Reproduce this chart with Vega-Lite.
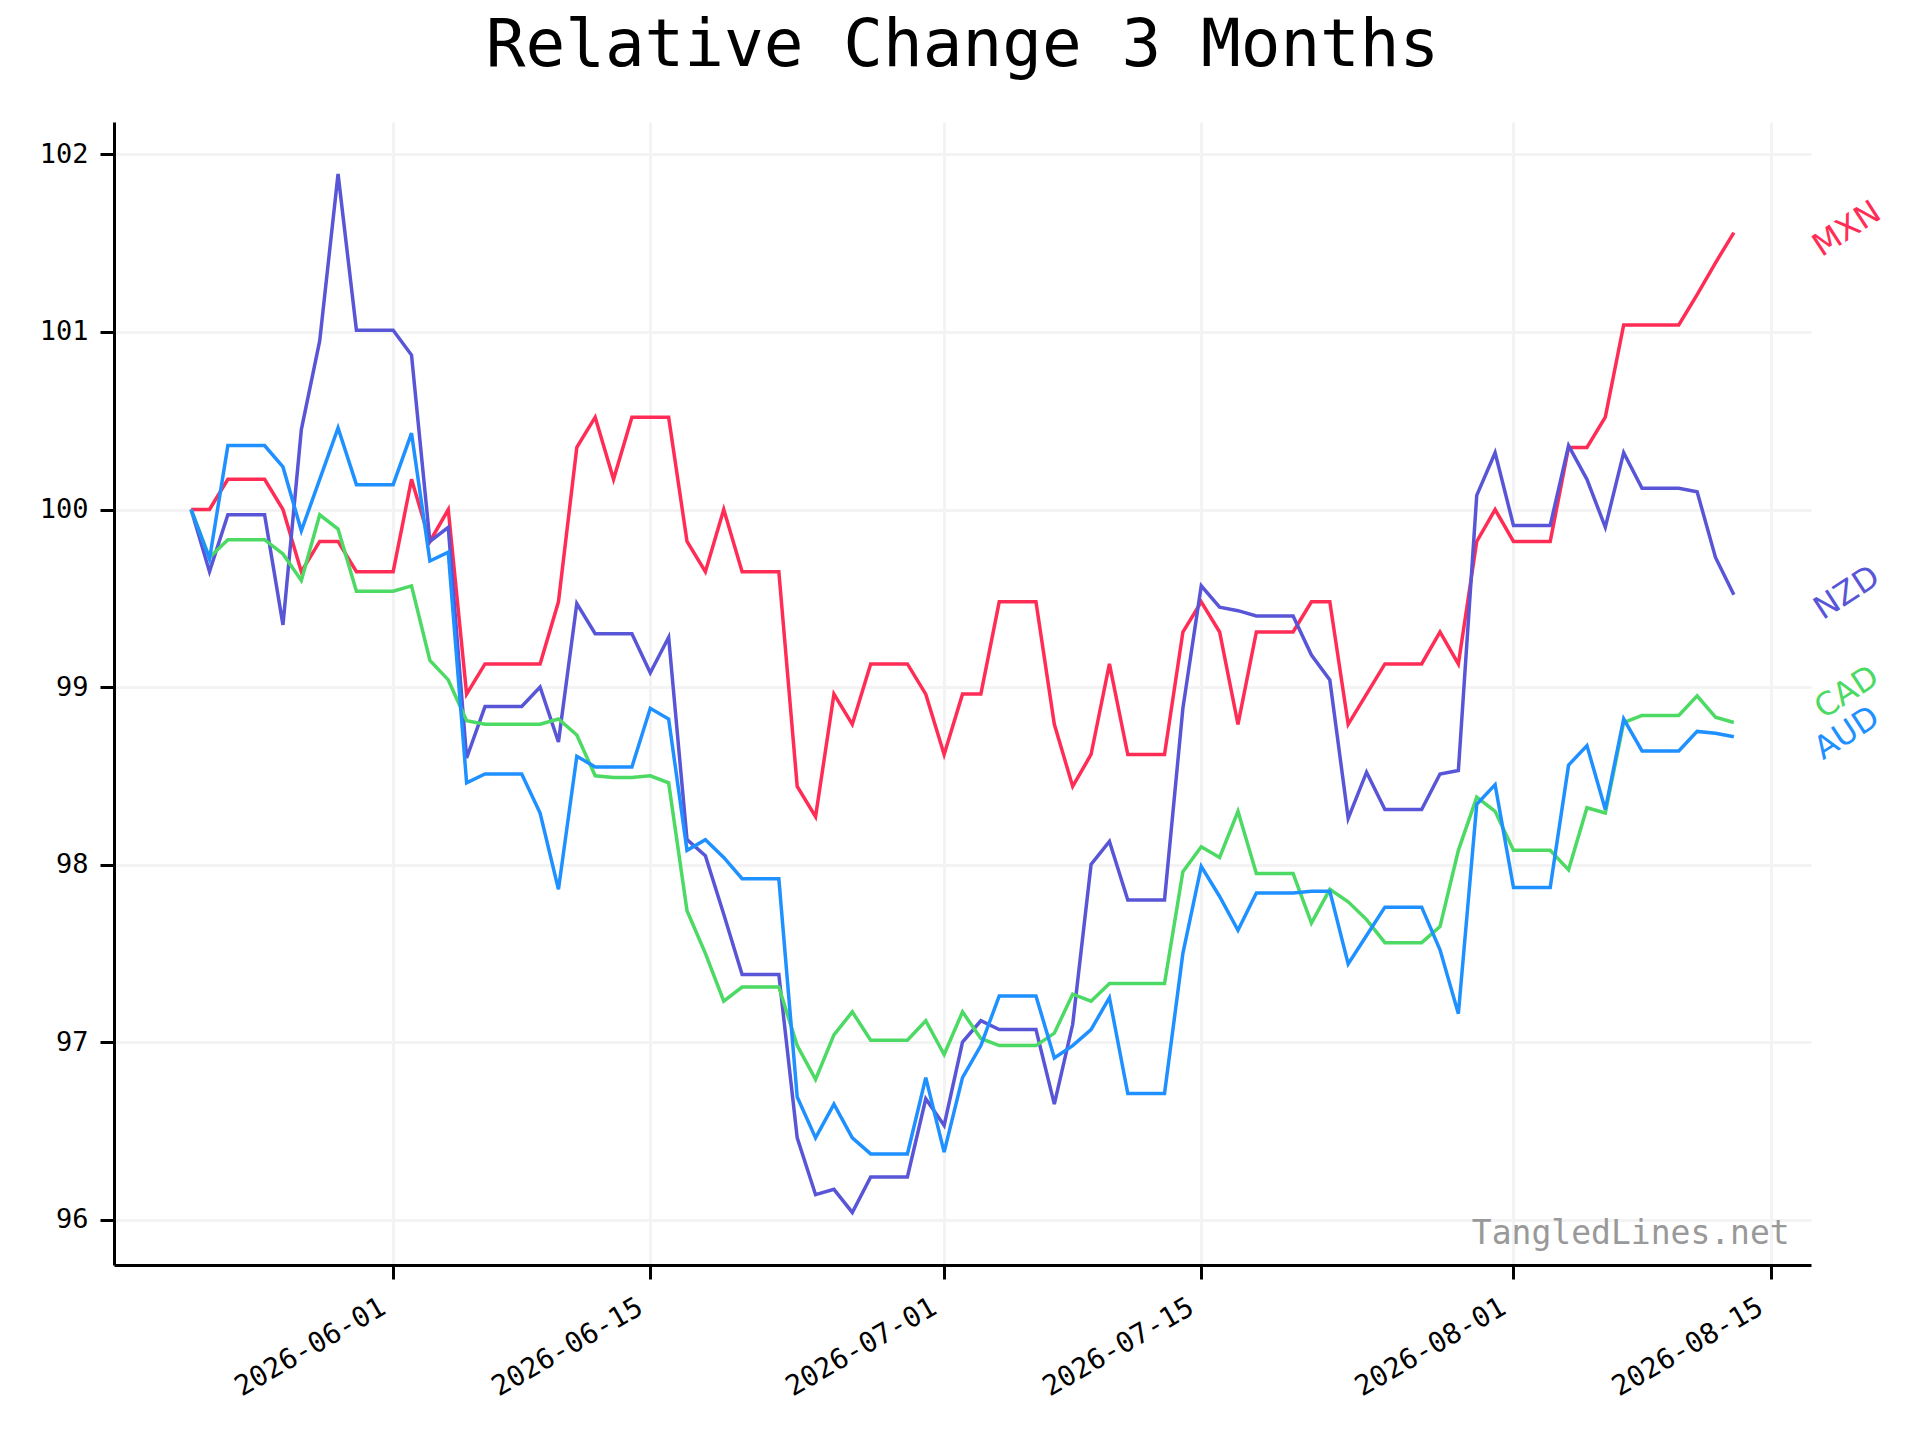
{
  "$schema": "https://vega.github.io/schema/vega-lite/v6.json",
  "width": 1697,
  "height": 1143,
  "autosize": {"type": "none"},
  "padding": {"left": 114, "top": 122, "right": 109, "bottom": 175},
  "background": "white",
  "title": {
    "text": "Relative Change 3 Months",
    "font": "DejaVu Sans Mono",
    "fontSize": 66,
    "fontWeight": "normal",
    "color": "black",
    "anchor": "middle",
    "offset": 42
  },
  "config": {
    "view": {"stroke": null},
    "axis": {
      "labelFont": "DejaVu Sans Mono",
      "labelFontSize": 27,
      "labelColor": "black",
      "domainColor": "black",
      "domainWidth": 3,
      "tickColor": "black",
      "tickWidth": 3,
      "tickSize": 14,
      "gridColor": "#f3f3f3",
      "gridWidth": 3,
      "title": null
    }
  },
  "datasets": {
    "rates": [
      {"date": "2026-05-21", "MXN": 100.0, "NZD": 100.0, "CAD": 100.0, "AUD": 100.0},
      {"date": "2026-05-22", "MXN": 100.0, "NZD": 99.65, "CAD": 99.73, "AUD": 99.72},
      {"date": "2026-05-23", "MXN": 100.17, "NZD": 99.97, "CAD": 99.83, "AUD": 100.36},
      {"date": "2026-05-24", "MXN": 100.17, "NZD": 99.97, "CAD": 99.83, "AUD": 100.36},
      {"date": "2026-05-25", "MXN": 100.17, "NZD": 99.97, "CAD": 99.83, "AUD": 100.36},
      {"date": "2026-05-26", "MXN": 100.0, "NZD": 99.35, "CAD": 99.75, "AUD": 100.24},
      {"date": "2026-05-27", "MXN": 99.65, "NZD": 100.45, "CAD": 99.6, "AUD": 99.88},
      {"date": "2026-05-28", "MXN": 99.82, "NZD": 100.95, "CAD": 99.97, "AUD": 100.17},
      {"date": "2026-05-29", "MXN": 99.82, "NZD": 101.89, "CAD": 99.89, "AUD": 100.46},
      {"date": "2026-05-30", "MXN": 99.65, "NZD": 101.01, "CAD": 99.54, "AUD": 100.14},
      {"date": "2026-05-31", "MXN": 99.65, "NZD": 101.01, "CAD": 99.54, "AUD": 100.14},
      {"date": "2026-06-01", "MXN": 99.65, "NZD": 101.01, "CAD": 99.54, "AUD": 100.14},
      {"date": "2026-06-02", "MXN": 100.17, "NZD": 100.87, "CAD": 99.57, "AUD": 100.43},
      {"date": "2026-06-03", "MXN": 99.82, "NZD": 99.82, "CAD": 99.15, "AUD": 99.71},
      {"date": "2026-06-04", "MXN": 100.0, "NZD": 99.9, "CAD": 99.04, "AUD": 99.76},
      {"date": "2026-06-05", "MXN": 98.96, "NZD": 98.6, "CAD": 98.81, "AUD": 98.46},
      {"date": "2026-06-06", "MXN": 99.13, "NZD": 98.89, "CAD": 98.79, "AUD": 98.51},
      {"date": "2026-06-07", "MXN": 99.13, "NZD": 98.89, "CAD": 98.79, "AUD": 98.51},
      {"date": "2026-06-08", "MXN": 99.13, "NZD": 98.89, "CAD": 98.79, "AUD": 98.51},
      {"date": "2026-06-09", "MXN": 99.13, "NZD": 99.0, "CAD": 98.79, "AUD": 98.29},
      {"date": "2026-06-10", "MXN": 99.48, "NZD": 98.69, "CAD": 98.82, "AUD": 97.86},
      {"date": "2026-06-11", "MXN": 100.35, "NZD": 99.47, "CAD": 98.73, "AUD": 98.61},
      {"date": "2026-06-12", "MXN": 100.52, "NZD": 99.3, "CAD": 98.5, "AUD": 98.55},
      {"date": "2026-06-13", "MXN": 100.17, "NZD": 99.3, "CAD": 98.49, "AUD": 98.55},
      {"date": "2026-06-14", "MXN": 100.52, "NZD": 99.3, "CAD": 98.49, "AUD": 98.55},
      {"date": "2026-06-15", "MXN": 100.52, "NZD": 99.08, "CAD": 98.5, "AUD": 98.88},
      {"date": "2026-06-16", "MXN": 100.52, "NZD": 99.28, "CAD": 98.46, "AUD": 98.82},
      {"date": "2026-06-17", "MXN": 99.82, "NZD": 98.14, "CAD": 97.74, "AUD": 98.08},
      {"date": "2026-06-18", "MXN": 99.65, "NZD": 98.05, "CAD": 97.5, "AUD": 98.14},
      {"date": "2026-06-19", "MXN": 100.0, "NZD": 97.72, "CAD": 97.23, "AUD": 98.04},
      {"date": "2026-06-20", "MXN": 99.65, "NZD": 97.38, "CAD": 97.31, "AUD": 97.92},
      {"date": "2026-06-21", "MXN": 99.65, "NZD": 97.38, "CAD": 97.31, "AUD": 97.92},
      {"date": "2026-06-22", "MXN": 99.65, "NZD": 97.38, "CAD": 97.31, "AUD": 97.92},
      {"date": "2026-06-23", "MXN": 98.44, "NZD": 96.46, "CAD": 96.98, "AUD": 96.69},
      {"date": "2026-06-24", "MXN": 98.27, "NZD": 96.14, "CAD": 96.79, "AUD": 96.46},
      {"date": "2026-06-25", "MXN": 98.96, "NZD": 96.17, "CAD": 97.04, "AUD": 96.65},
      {"date": "2026-06-26", "MXN": 98.79, "NZD": 96.04, "CAD": 97.17, "AUD": 96.46},
      {"date": "2026-06-27", "MXN": 99.13, "NZD": 96.24, "CAD": 97.01, "AUD": 96.37},
      {"date": "2026-06-28", "MXN": 99.13, "NZD": 96.24, "CAD": 97.01, "AUD": 96.37},
      {"date": "2026-06-29", "MXN": 99.13, "NZD": 96.24, "CAD": 97.01, "AUD": 96.37},
      {"date": "2026-06-30", "MXN": 98.96, "NZD": 96.68, "CAD": 97.12, "AUD": 96.8},
      {"date": "2026-07-01", "MXN": 98.62, "NZD": 96.53, "CAD": 96.93, "AUD": 96.38},
      {"date": "2026-07-02", "MXN": 98.96, "NZD": 97.0, "CAD": 97.17, "AUD": 96.8},
      {"date": "2026-07-03", "MXN": 98.96, "NZD": 97.12, "CAD": 97.02, "AUD": 96.98},
      {"date": "2026-07-04", "MXN": 99.48, "NZD": 97.07, "CAD": 96.98, "AUD": 97.26},
      {"date": "2026-07-05", "MXN": 99.48, "NZD": 97.07, "CAD": 96.98, "AUD": 97.26},
      {"date": "2026-07-06", "MXN": 99.48, "NZD": 97.07, "CAD": 96.98, "AUD": 97.26},
      {"date": "2026-07-07", "MXN": 98.79, "NZD": 96.65, "CAD": 97.05, "AUD": 96.91},
      {"date": "2026-07-08", "MXN": 98.44, "NZD": 97.1, "CAD": 97.27, "AUD": 96.98},
      {"date": "2026-07-09", "MXN": 98.62, "NZD": 98.0, "CAD": 97.23, "AUD": 97.07},
      {"date": "2026-07-10", "MXN": 99.13, "NZD": 98.13, "CAD": 97.33, "AUD": 97.25},
      {"date": "2026-07-11", "MXN": 98.62, "NZD": 97.8, "CAD": 97.33, "AUD": 96.71},
      {"date": "2026-07-12", "MXN": 98.62, "NZD": 97.8, "CAD": 97.33, "AUD": 96.71},
      {"date": "2026-07-13", "MXN": 98.62, "NZD": 97.8, "CAD": 97.33, "AUD": 96.71},
      {"date": "2026-07-14", "MXN": 99.31, "NZD": 98.88, "CAD": 97.96, "AUD": 97.5},
      {"date": "2026-07-15", "MXN": 99.48, "NZD": 99.57, "CAD": 98.1, "AUD": 97.99},
      {"date": "2026-07-16", "MXN": 99.31, "NZD": 99.45, "CAD": 98.04, "AUD": 97.82},
      {"date": "2026-07-17", "MXN": 98.79, "NZD": 99.43, "CAD": 98.3, "AUD": 97.63},
      {"date": "2026-07-18", "MXN": 99.31, "NZD": 99.4, "CAD": 97.95, "AUD": 97.84},
      {"date": "2026-07-19", "MXN": 99.31, "NZD": 99.4, "CAD": 97.95, "AUD": 97.84},
      {"date": "2026-07-20", "MXN": 99.31, "NZD": 99.4, "CAD": 97.95, "AUD": 97.84},
      {"date": "2026-07-21", "MXN": 99.48, "NZD": 99.18, "CAD": 97.67, "AUD": 97.85},
      {"date": "2026-07-22", "MXN": 99.48, "NZD": 99.04, "CAD": 97.86, "AUD": 97.85},
      {"date": "2026-07-23", "MXN": 98.79, "NZD": 98.26, "CAD": 97.79, "AUD": 97.44},
      {"date": "2026-07-24", "MXN": 98.96, "NZD": 98.52, "CAD": 97.69, "AUD": 97.6},
      {"date": "2026-07-25", "MXN": 99.13, "NZD": 98.31, "CAD": 97.56, "AUD": 97.76},
      {"date": "2026-07-26", "MXN": 99.13, "NZD": 98.31, "CAD": 97.56, "AUD": 97.76},
      {"date": "2026-07-27", "MXN": 99.13, "NZD": 98.31, "CAD": 97.56, "AUD": 97.76},
      {"date": "2026-07-28", "MXN": 99.31, "NZD": 98.51, "CAD": 97.65, "AUD": 97.52},
      {"date": "2026-07-29", "MXN": 99.13, "NZD": 98.53, "CAD": 98.08, "AUD": 97.16},
      {"date": "2026-07-30", "MXN": 99.82, "NZD": 100.08, "CAD": 98.38, "AUD": 98.34},
      {"date": "2026-07-31", "MXN": 100.0, "NZD": 100.32, "CAD": 98.3, "AUD": 98.45},
      {"date": "2026-08-01", "MXN": 99.82, "NZD": 99.91, "CAD": 98.08, "AUD": 97.87},
      {"date": "2026-08-02", "MXN": 99.82, "NZD": 99.91, "CAD": 98.08, "AUD": 97.87},
      {"date": "2026-08-03", "MXN": 99.82, "NZD": 99.91, "CAD": 98.08, "AUD": 97.87},
      {"date": "2026-08-04", "MXN": 100.35, "NZD": 100.36, "CAD": 97.97, "AUD": 98.56},
      {"date": "2026-08-05", "MXN": 100.35, "NZD": 100.17, "CAD": 98.32, "AUD": 98.67},
      {"date": "2026-08-06", "MXN": 100.52, "NZD": 99.9, "CAD": 98.29, "AUD": 98.31},
      {"date": "2026-08-07", "MXN": 101.04, "NZD": 100.32, "CAD": 98.8, "AUD": 98.82},
      {"date": "2026-08-08", "MXN": 101.04, "NZD": 100.12, "CAD": 98.84, "AUD": 98.64},
      {"date": "2026-08-09", "MXN": 101.04, "NZD": 100.12, "CAD": 98.84, "AUD": 98.64},
      {"date": "2026-08-10", "MXN": 101.04, "NZD": 100.12, "CAD": 98.84, "AUD": 98.64},
      {"date": "2026-08-11", "MXN": 101.21, "NZD": 100.1, "CAD": 98.95, "AUD": 98.75},
      {"date": "2026-08-12", "MXN": 101.39, "NZD": 99.73, "CAD": 98.83, "AUD": 98.74},
      {"date": "2026-08-13", "MXN": 101.56, "NZD": 99.52, "CAD": 98.8, "AUD": 98.72}
    ],
    "endLabels": [
      {"date": "2026-08-19T03:36:00Z", "value": 101.58, "currency": "MXN"},
      {"date": "2026-08-19T03:36:00Z", "value": 99.53, "currency": "NZD"},
      {"date": "2026-08-19T03:36:00Z", "value": 98.97, "currency": "CAD"},
      {"date": "2026-08-19T03:36:00Z", "value": 98.74, "currency": "AUD"}
    ],
    "watermark": [
      {"date": "2026-08-16T01:00:00Z", "value": 95.92, "text": "TangledLines.net"}
    ]
  },
  "encoding": {
    "x": {
      "field": "date",
      "type": "temporal",
      "scale": {
        "type": "utc",
        "domain": ["2026-05-16T19:12:00Z", "2026-08-17T04:48:00Z"],
        "nice": false
      },
      "axis": {
        "values": [
          {"year": 2026, "month": 6, "date": 1, "utc": true},
          {"year": 2026, "month": 6, "date": 15, "utc": true},
          {"year": 2026, "month": 7, "date": 1, "utc": true},
          {"year": 2026, "month": 7, "date": 15, "utc": true},
          {"year": 2026, "month": 8, "date": 1, "utc": true},
          {"year": 2026, "month": 8, "date": 15, "utc": true}
        ],
        "format": "%Y-%m-%d",
        "labelFontSize": 28,
        "labelAngle": -30,
        "labelAlign": "right",
        "labelBaseline": "top",
        "labelOffset": -17,
        "labelPadding": 14
      }
    },
    "y": {
      "field": "value",
      "type": "quantitative",
      "scale": {"domain": [95.744, 102.183], "nice": false, "zero": false},
      "axis": {"values": [96, 97, 98, 99, 100, 101, 102], "labelPadding": 12}
    }
  },
  "layer": [
    {
      "data": {"name": "rates"},
      "transform": [{"fold": ["MXN", "NZD", "CAD", "AUD"], "as": ["currency", "value"]}],
      "mark": {"type": "line", "strokeWidth": 3.5},
      "encoding": {
        "color": {
          "field": "currency",
          "type": "nominal",
          "scale": {
            "domain": ["MXN", "NZD", "CAD", "AUD"],
            "range": ["#ff2d55", "#5856d6", "#4cd964", "#1e90ff"]
          },
          "legend": null
        }
      }
    },
    {
      "data": {"name": "endLabels"},
      "mark": {
        "type": "text",
        "font": "DejaVu Sans",
        "fontSize": 32,
        "angle": -33,
        "align": "center",
        "baseline": "middle"
      },
      "encoding": {
        "text": {"field": "currency"},
        "color": {"field": "currency", "type": "nominal", "legend": null}
      }
    },
    {
      "data": {"name": "watermark"},
      "mark": {
        "type": "text",
        "font": "DejaVu Sans Mono",
        "fontSize": 33,
        "align": "right",
        "baseline": "middle",
        "color": "#999999"
      },
      "encoding": {"text": {"field": "text"}}
    }
  ]
}
